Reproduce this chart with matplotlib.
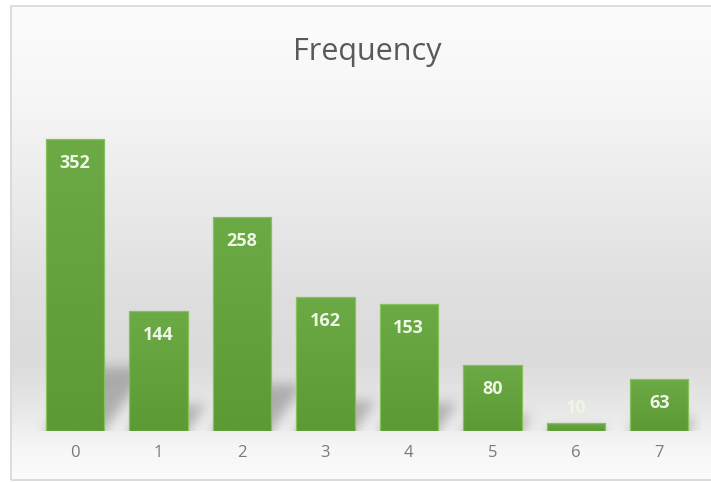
import numpy as np
import matplotlib
matplotlib.use("Agg")
import matplotlib.pyplot as plt
from matplotlib.patches import Rectangle

# Data
categories = ["0", "1", "2", "3", "4", "5", "6", "7"]
frequency = [352, 144, 258, 162, 153, 80, 10, 63]
title = "Frequency"

FIG_W, FIG_H, DPI = 711, 482, 100
plt.rcParams["font.family"] = ["Open Sans", "DejaVu Sans"]

fig = plt.figure(figsize=(FIG_W / DPI, FIG_H / DPI), dpi=DPI)
fig.patch.set_facecolor("white")

# Chart-area background: soft vertical grey gradient inside a thin frame
frame_l, frame_r, frame_t, frame_b = 11, 711, 6, 480
bg = fig.add_axes([frame_l / FIG_W, 1 - frame_b / FIG_H,
                   (frame_r - frame_l) / FIG_W, (frame_b - frame_t) / FIG_H])
bg.set_axis_off()
rows = np.arange(frame_t, frame_b)
stop_y = [6, 90, 200, 300, 360, 410, 450, 480]
stop_v = [252, 247, 234, 222, 219, 232, 247, 251]
levels = np.interp(rows, stop_y, stop_v) / 255.0
grad = np.repeat(levels[:, None], 4, axis=1)
bg.imshow(np.dstack([grad, grad, grad]), aspect="auto", extent=(0, 1, 0, 1),
          origin="upper", interpolation="bilinear")
bg.set_xlim(0, 1)
bg.set_ylim(0, 1)
fig.patches.append(Rectangle((frame_l / FIG_W, 1 - frame_b / FIG_H),
                             (frame_r - frame_l + 2) / FIG_W,
                             (frame_b - frame_t) / FIG_H,
                             transform=fig.transFigure, fill=False,
                             edgecolor="#d6d6d6", linewidth=1.2, zorder=5))

# Plot area
ax_l, ax_r, ax_base, ax_top = 33.2, 701.0, 431.0, 99.0
ax = fig.add_axes([ax_l / FIG_W, 1 - ax_base / FIG_H,
                   (ax_r - ax_l) / FIG_W, (ax_base - ax_top) / FIG_H])
ax.patch.set_alpha(0)
x = np.arange(len(categories))
ymax = 400
ax.set_xlim(-0.5, len(categories) - 0.5)
ax.set_ylim(0, ymax)
for s in ax.spines.values():
    s.set_visible(False)
ax.set_yticks([])
ax.set_xticks(x)
ax.set_xticklabels(categories, fontsize=12, color="#7a7a7a")
ax.tick_params(axis="x", length=0, pad=10)

bar_w = 0.7

# Soft perspective shadows cast up and to the right of each bar
W = int(round(ax_r - ax_l))
H = int(round(ax_base - ax_top))
px_x = W / len(categories)
px_y = H / ymax
XX, YY = np.meshgrid(np.arange(W) + 0.5, np.arange(H) + 0.5)
mask = np.zeros((H, W))
for i, v in enumerate(frequency):
    xc = (i + 0.5) * px_x
    xl, xr = xc - bar_w / 2 * px_x, xc + bar_w / 2 * px_x
    hs = 0.22 * v * px_y
    shear = 0.7
    inside = (YY <= hs) & (XX >= xl + shear * YY) & (XX <= xr + shear * YY)
    mask = np.maximum(mask, inside.astype(float))


def gaussian_blur(a, sigma):
    r = int(3 * sigma)
    k = np.exp(-0.5 * (np.arange(-r, r + 1) / sigma) ** 2)
    k /= k.sum()
    a = np.pad(a, r, mode="edge")
    a = np.apply_along_axis(lambda m: np.convolve(m, k, mode="valid"), 0, a)
    a = np.apply_along_axis(lambda m: np.convolve(m, k, mode="valid"), 1, a)
    return a


soft = gaussian_blur(mask, 6.0)
shadow = np.zeros((H, W, 4))
shadow[..., :3] = 0.38
shadow[..., 3] = soft * 0.42
ax.imshow(shadow, origin="lower", extent=(-0.5, len(categories) - 0.5, 0, ymax),
          aspect="auto", interpolation="bilinear", zorder=1)

# Bars with a top-to-bottom green gradient
bars = ax.bar(x, frequency, width=bar_w, facecolor="none",
              edgecolor="#86c15c", linewidth=0.9, zorder=3)
top_c = np.array([107, 170, 68]) / 255.0
bot_c = np.array([92, 154, 53]) / 255.0
t = np.linspace(0, 1, 64)[:, None]
col = top_c[None, :] * (1 - t) + bot_c[None, :] * t
col_img = np.repeat(col[:, None, :], 8, axis=1)
for b in bars:
    x0, w, h = b.get_x(), b.get_width(), b.get_height()
    im = ax.imshow(col_img, origin="upper", extent=(x0, x0 + w, 0, h),
                   aspect="auto", interpolation="bilinear", zorder=2)
    im.set_clip_path(b)

ax.set_xlim(-0.5, len(categories) - 0.5)
ax.set_ylim(0, ymax)

# Value labels at the inside end of each bar
for xi, v in zip(x, frequency):
    short = v * px_y < 30
    ax.annotate(str(v), (xi, v), xytext=(0, 15 if short else -24),
                textcoords="offset pixels", ha="center", va="center",
                fontsize=13, fontweight="bold", color="#eef7e6", zorder=4)

fig.text(367 / FIG_W, 1 - 52 / FIG_H, title, ha="center", va="center",
         fontsize=22, color="#595959")

fig.savefig("out.png", dpi=DPI)
